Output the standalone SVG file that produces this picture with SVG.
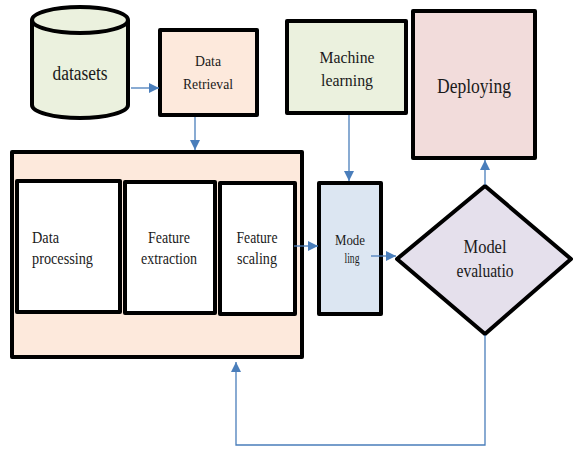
<svg xmlns="http://www.w3.org/2000/svg" width="573" height="449" viewBox="0 0 573 449">
  <style>
    .box { stroke: #000; stroke-width: 4; stroke-linejoin: round; }
    text { font-family: 'Liberation Serif', 'Times New Roman', Times, serif; fill: #1a1a1a; }
    .mid { text-anchor: middle; }
    .conn { fill: none; stroke: #4a7ebb; stroke-width: 1.3; }
  </style>
  <defs>
    <marker id="arrow" viewBox="0 0 10 10" refX="10" refY="5" markerWidth="10" markerHeight="10" markerUnits="userSpaceOnUse" orient="auto">
      <path d="M0,0 L10,5 L0,10 z" fill="#4a7ebb"/>
    </marker>
  </defs>
  <rect width="573" height="449" fill="#fff"/>

  <g id="datasets">
    <path class="box" fill="#ebf1de" d="M32,20 L32,105 A48,13 0 0 0 128,105 L128,20 A48,13 0 0 0 32,20 Z"/>
    <path class="box" fill="none" d="M32,20 A48,13 0 0 0 128,20"/>
    <text class="mid" x="80" y="80" font-size="20" textLength="55" lengthAdjust="spacingAndGlyphs">datasets</text>
  </g>

  <g id="data-retrieval">
    <rect class="box" x="160" y="30" width="97" height="85" fill="#fde9dc"/>
    <text class="mid" x="208" y="66" font-size="15" textLength="26" lengthAdjust="spacingAndGlyphs">Data</text>
    <text class="mid" x="208" y="89" font-size="15" textLength="50" lengthAdjust="spacingAndGlyphs">Retrieval</text>
  </g>

  <g id="machine-learning">
    <rect class="box" x="287" y="21" width="119" height="92" fill="#ebf1de"/>
    <text class="mid" x="347" y="63" font-size="16" textLength="55" lengthAdjust="spacingAndGlyphs">Machine</text>
    <text class="mid" x="347" y="86" font-size="16" textLength="52" lengthAdjust="spacingAndGlyphs">learning</text>
  </g>

  <g id="deploying">
    <rect class="box" x="413" y="11" width="122" height="147" fill="#f2dcdb"/>
    <text class="mid" x="474" y="93" font-size="21" textLength="74" lengthAdjust="spacingAndGlyphs">Deploying</text>
  </g>

  <g id="preparation">
    <rect class="box" x="12" y="152" width="290" height="205" fill="#fde9dc"/>
  </g>

  <g id="data-processing">
    <rect class="box" x="17" y="181" width="103" height="131" fill="#fff"/>
    <text x="32" y="243" font-size="16" textLength="27" lengthAdjust="spacingAndGlyphs">Data</text>
    <text x="32" y="264" font-size="16" textLength="61" lengthAdjust="spacingAndGlyphs">processing</text>
  </g>

  <g id="feature-extraction">
    <rect class="box" x="125" y="182" width="90" height="131" fill="#fff"/>
    <text class="mid" x="169" y="243" font-size="16" textLength="42" lengthAdjust="spacingAndGlyphs">Feature</text>
    <text class="mid" x="169" y="264" font-size="16" textLength="56" lengthAdjust="spacingAndGlyphs">extraction</text>
  </g>

  <g id="feature-scaling">
    <rect class="box" x="220" y="183" width="75" height="131" fill="#fff"/>
    <text class="mid" x="257" y="243" font-size="16" textLength="41" lengthAdjust="spacingAndGlyphs">Feature</text>
    <text class="mid" x="257" y="264" font-size="16" textLength="40" lengthAdjust="spacingAndGlyphs">scaling</text>
  </g>

  <g id="modeling">
    <rect class="box" x="319" y="183" width="62" height="131" fill="#dce6f2"/>
    <text class="mid" x="350" y="245" font-size="14" textLength="30" lengthAdjust="spacingAndGlyphs">Mode</text>
    <text class="mid" x="352" y="263" font-size="14" textLength="15" lengthAdjust="spacingAndGlyphs">ling</text>
  </g>

  <g id="model-evaluation">
    <path class="box" fill="#e5e0ec" d="M485,186 L571,259 L485,334 L397,259 Z"/>
    <text class="mid" x="485" y="253" font-size="18" textLength="43" lengthAdjust="spacingAndGlyphs">Model</text>
    <text class="mid" x="485" y="277" font-size="18" textLength="57" lengthAdjust="spacingAndGlyphs">evaluatio</text>
  </g>

  <g id="connectors">
    <path class="conn" d="M131,88 L159,88" marker-end="url(#arrow)"/>
    <path class="conn" d="M195,117 L195,150" marker-end="url(#arrow)"/>
    <path class="conn" d="M349,115 L349,181" marker-end="url(#arrow)"/>
    <path class="conn" d="M294,246 L318,246" marker-end="url(#arrow)"/>
    <path class="conn" d="M371,256 L396,256" marker-end="url(#arrow)"/>
    <path class="conn" d="M485,185 L485,160" marker-end="url(#arrow)"/>
    <path class="conn" d="M485,335 L485,445 L236,445 L236,362" marker-end="url(#arrow)"/>
  </g>
</svg>
